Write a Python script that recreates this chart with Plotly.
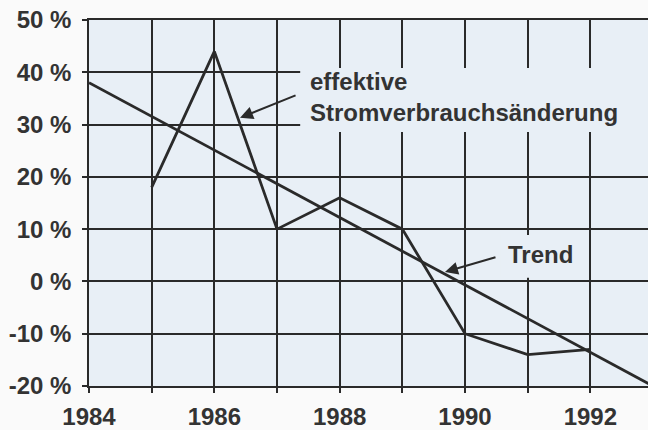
import plotly.graph_objects as go

# Data
years_eff = [1985, 1986, 1987, 1988, 1989, 1990, 1991, 1992]
eff_values = [18, 44, 10, 16, 10, -10, -14, -13]
years_trend = [1984, 1993]
trend_values = [38, -20]
x_tick_labels = ["1984", "1986", "1988", "1990", "1992"]
y_tick_vals = [-20, -10, 0, 10, 20, 30, 40, 50]

INK = "#2a2a2a"
TXT = "#333333"
PLOT_BG = "#e8eff6"
PAPER_BG = "#fafafa"
FONT = dict(family="Liberation Sans, Arial, sans-serif", size=24, color=TXT, weight="bold")

fig = go.Figure()
fig.add_trace(go.Scatter(x=years_trend, y=trend_values, mode="lines",
                         line=dict(color=INK, width=2.8), showlegend=False))
fig.add_trace(go.Scatter(x=years_eff, y=eff_values, mode="lines",
                         line=dict(color=INK, width=2.8), showlegend=False))

# label background boxes (cover gridlines behind the labels)
fig.add_shape(type="rect", xref="x", yref="y", x0=1987.37, x1=1993.2, y0=28.6, y1=40.8,
              fillcolor=PLOT_BG, line=dict(width=0), layer="between")
fig.add_shape(type="rect", xref="x", yref="y", x0=1990.56, x1=1991.83, y0=0.7, y1=8.9,
              fillcolor=PLOT_BG, line=dict(width=0), layer="between")

fig.add_annotation(x=1987.5, y=35.3, xref="x", yref="y",
                   text="effektive<br>Stromverbrauchsänderung", align="left",
                   showarrow=False, xanchor="left", yanchor="middle", font=FONT)
fig.add_annotation(x=1991.2, y=5.1, xref="x", yref="y", text="Trend",
                   showarrow=False, xanchor="center", yanchor="middle", font=FONT)

# arrows
fig.add_annotation(x=1986.41, y=31.3, ax=1987.32, ay=35.7, xref="x", yref="y",
                   axref="x", ayref="y", text="", showarrow=True,
                   arrowhead=2, arrowsize=1.3, arrowwidth=2, arrowcolor=INK)
fig.add_annotation(x=1989.68, y=1.8, ax=1990.51, ay=4.7, xref="x", yref="y",
                   axref="x", ayref="y", text="", showarrow=True,
                   arrowhead=2, arrowsize=1.3, arrowwidth=2, arrowcolor=INK)

fig.update_xaxes(range=[1984, 1992.92], tickmode="array",
                 tickvals=[int(t) for t in x_tick_labels], ticktext=x_tick_labels,
                 showgrid=True, gridcolor=INK, gridwidth=1.5,
                 ticks="outside", ticklen=5, tickwidth=1.5, tickcolor=INK,
                 minor=dict(dtick=1, tick0=1984, showgrid=True, gridcolor=INK, gridwidth=1.5,
                            ticks="outside", ticklen=5, tickwidth=1.5, tickcolor=INK),
                 showline=True, linecolor=INK, linewidth=1.5, mirror=True,
                 zeroline=False, tickfont=FONT, ticklabelstandoff=3)
fig.update_yaxes(range=[-20, 50], tickmode="array", tickvals=y_tick_vals,
                 ticktext=[f"{v} %" for v in y_tick_vals],
                 showgrid=True, gridcolor=INK, gridwidth=1.5,
                 ticks="outside", ticklen=5, tickwidth=1.5, tickcolor=INK,
                 showline=True, linecolor=INK, linewidth=1.5, mirror=False,
                 zeroline=False, tickfont=FONT, ticklabelstandoff=6)

fig.update_layout(width=648, height=430, autosize=False,
                  margin=dict(l=89, r=0, t=20, b=44),
                  plot_bgcolor=PLOT_BG, paper_bgcolor=PAPER_BG,
                  showlegend=False)

fig.write_html("out.html", config={"displayModeBar": False},
               post_script="document.body.style.margin='0px';")
